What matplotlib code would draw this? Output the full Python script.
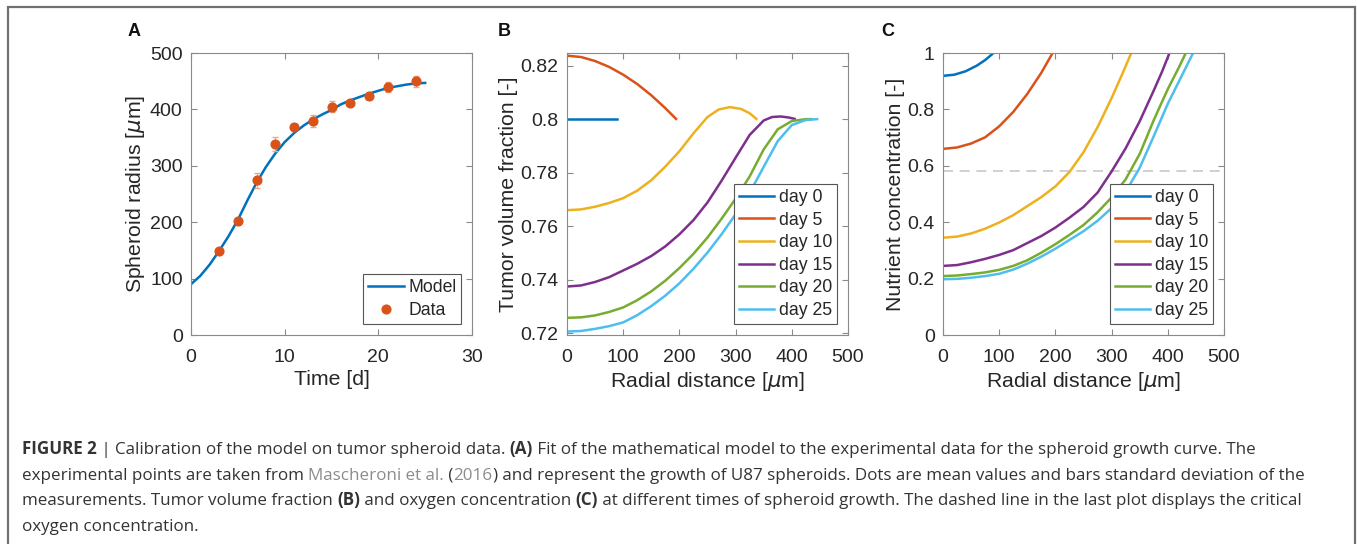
import matplotlib
matplotlib.use("Agg")
import matplotlib.pyplot as plt
from matplotlib.patches import Rectangle

plt.rcParams['font.family'] = ['Liberation Sans', 'DejaVu Sans']
plt.rcParams['mathtext.fontset'] = 'dejavusans'

# MATLAB default colour order
c_blue, c_red, c_yel, c_pur, c_grn, c_cyan = '#0072BD', '#D95319', '#EDB120', '#7E2F8E', '#77AC30', '#4DBEEE'
txt_col = '#262626'
axis_col = '#8a8a8a'

# ---- panel A: spheroid growth ----
model_t = list(range(26))
model_r = [90, 105, 125, 149, 175, 204, 238, 270, 298, 322, 342, 358, 371,
           382, 391, 399, 409, 416, 422, 428, 433, 438, 441, 444, 446, 447]
data_t = [3, 5, 7, 9, 11, 13, 15, 17, 19, 21, 24]
data_r = [149, 202, 274, 339, 369, 379, 405, 411, 423, 439, 450]
data_sd = [4, 4, 13, 12, 5, 11, 10, 5, 5, 9, 10]

# ---- panel B: tumor volume fraction vs radial distance ----
vf_x = {
    'day 0': [0, 89],
    'day 5': [0, 25, 50, 75, 100, 125, 150, 175, 194],
    'day 10': [0, 25, 50, 75, 100, 125, 150, 175, 200, 225, 250, 270, 290, 310, 325, 337],
    'day 15': [0, 25, 50, 75, 100, 125, 150, 175, 200, 225, 250, 275, 300, 325, 350, 365, 380, 395, 405],
    'day 20': [0, 25, 50, 75, 100, 125, 150, 175, 200, 225, 250, 275, 300, 325, 350, 375, 400, 425, 435],
    'day 25': [0, 25, 50, 75, 100, 125, 150, 175, 200, 225, 250, 275, 300, 325, 350, 375, 400, 425, 445],
}
vf_y = {
    'day 0': [0.8, 0.8],
    'day 5': [0.8237, 0.8232, 0.8217, 0.8195, 0.8166, 0.8131, 0.8089, 0.8041, 0.8001],
    'day 10': [0.7660, 0.7663, 0.7673, 0.7687, 0.7705, 0.7733, 0.7772, 0.7823, 0.7880, 0.7947,
               0.8008, 0.8036, 0.8045, 0.8038, 0.8022, 0.8001],
    'day 15': [0.7375, 0.7379, 0.7392, 0.7410, 0.7435, 0.7460, 0.7489, 0.7525, 0.7570, 0.7623,
               0.7689, 0.7770, 0.7856, 0.7941, 0.7995, 0.8008, 0.8010, 0.8006, 0.8001],
    'day 20': [0.7258, 0.7260, 0.7267, 0.7280, 0.7297, 0.7324, 0.7357, 0.7397, 0.7444, 0.7497,
               0.7558, 0.7628, 0.7703, 0.7786, 0.7887, 0.7962, 0.7993, 0.8000, 0.8000],
    'day 25': [0.7207, 0.7209, 0.7217, 0.7227, 0.7241, 0.7268, 0.7302, 0.7341, 0.7387, 0.7441,
               0.7502, 0.7570, 0.7645, 0.7725, 0.7822, 0.7918, 0.7978, 0.7997, 0.8000],
}

# ---- panel C: nutrient concentration vs radial distance ----
nc_x = {
    'day 0': [0, 20, 40, 60, 75, 90],
    'day 5': [0, 25, 50, 75, 100, 125, 150, 175, 195],
    'day 10': [0, 25, 50, 75, 100, 125, 150, 175, 200, 225, 250, 275, 300, 320, 335],
    'day 15': [0, 25, 50, 75, 100, 125, 150, 175, 200, 225, 250, 275, 300, 325, 350, 375, 390, 403],
    'day 20': [0, 25, 50, 75, 100, 125, 150, 175, 200, 225, 250, 275, 300, 325, 350, 375, 400, 420, 432],
    'day 25': [0, 25, 50, 75, 100, 125, 150, 175, 200, 225, 250, 275, 300, 325, 350, 375, 400, 425, 445],
}
nc_y = {
    'day 0': [0.919, 0.923, 0.935, 0.955, 0.975, 1.0],
    'day 5': [0.660, 0.665, 0.679, 0.701, 0.740, 0.791, 0.855, 0.930, 1.0],
    'day 10': [0.345, 0.349, 0.360, 0.377, 0.399, 0.425, 0.457, 0.489, 0.527, 0.578, 0.648,
               0.737, 0.840, 0.930, 1.0],
    'day 15': [0.245, 0.248, 0.258, 0.270, 0.284, 0.301, 0.326, 0.351, 0.381, 0.416, 0.454,
               0.505, 0.580, 0.662, 0.758, 0.867, 0.935, 1.0],
    'day 20': [0.209, 0.211, 0.216, 0.222, 0.231, 0.245, 0.265, 0.292, 0.322, 0.355, 0.390,
               0.435, 0.488, 0.552, 0.642, 0.762, 0.872, 0.950, 1.0],
    'day 25': [0.198, 0.199, 0.203, 0.209, 0.217, 0.232, 0.253, 0.278, 0.306, 0.337, 0.368,
               0.405, 0.450, 0.508, 0.593, 0.705, 0.820, 0.920, 1.0],
}
critical_c = 0.58
days = ['day 0', 'day 5', 'day 10', 'day 15', 'day 20', 'day 25']
day_cols = [c_blue, c_red, c_yel, c_pur, c_grn, c_cyan]

W, H = 1357, 544
fig = plt.figure(figsize=(W / 100, H / 100), dpi=100)


def px_axes(left, top, right, bottom):
    return fig.add_axes([left / W, 1 - bottom / H, (right - left) / W, (bottom - top) / H])


def style(ax):
    for s in ax.spines.values():
        s.set_color(axis_col)
        s.set_linewidth(0.8)
    ax.tick_params(direction='in', top=True, right=True, length=4, width=0.8,
                   color=axis_col, labelcolor=txt_col, labelsize=14, pad=6)
    ax.tick_params(axis='x', pad=10)


def leg(ax, **kw):
    lg = ax.legend(loc='lower right', fancybox=False, edgecolor='#555555', framealpha=1,
                   fontsize=12.7, handlelength=2.0, handletextpad=0.25, borderpad=0.3,
                   labelspacing=0.32, borderaxespad=0.6, **kw)
    lg.get_frame().set_linewidth(0.8)
    for t in lg.get_texts():
        t.set_color(txt_col)
    return lg


lab_fs = 15.3

# panel A
axA = px_axes(191, 53, 472, 335)
axA.plot(model_t, model_r, color=c_blue, lw=1.8, label='Model')
axA.errorbar(data_t, data_r, yerr=data_sd, fmt='none', ecolor='#f0a47c', elinewidth=0.8, capsize=2)
axA.plot(data_t, data_r, 'o', color=c_red, ms=6.3, label='Data')
axA.set_xlim(0, 30)
axA.set_ylim(0, 500)
axA.set_xticks([0, 10, 20, 30])
axA.set_yticks([0, 100, 200, 300, 400, 500])
axA.set_xlabel('Time [d]', fontsize=lab_fs, color=txt_col, labelpad=3)
axA.set_ylabel(r'Spheroid radius [$\mu$m]', fontsize=lab_fs, color=txt_col, labelpad=2)
style(axA)
leg(axA, handles=axA.get_lines()[:1] + axA.get_lines()[-1:])

# panel B
axB = px_axes(567, 53, 848, 335)
for d, c in zip(days, day_cols):
    axB.plot(vf_x[d], vf_y[d], color=c, lw=1.8, label=d)
axB.set_xlim(0, 500)
axB.set_ylim(0.7194, 0.8247)
axB.set_xticks([0, 100, 200, 300, 400, 500])
axB.set_yticks([0.72, 0.74, 0.76, 0.78, 0.8, 0.82])
axB.set_yticklabels(['0.72', '0.74', '0.76', '0.78', '0.8', '0.82'])
axB.set_xlabel(r'Radial distance [$\mu$m]', fontsize=lab_fs, color=txt_col, labelpad=3)
axB.set_ylabel('Tumor volume fraction [-]', fontsize=lab_fs, color=txt_col, labelpad=2)
style(axB)
leg(axB)

# panel C
axC = px_axes(943, 53, 1224, 335)
for d, c in zip(days, day_cols):
    axC.plot(nc_x[d], nc_y[d], color=c, lw=1.8, label=d)
axC.axhline(critical_c, color='#c8c8c8', lw=1.2, ls=(0, (6, 4)), zorder=1)
axC.set_xlim(0, 500)
axC.set_ylim(0, 1)
axC.set_xticks([0, 100, 200, 300, 400, 500])
axC.set_yticks([0, 0.2, 0.4, 0.6, 0.8, 1])
axC.set_yticklabels(['0', '0.2', '0.4', '0.6', '0.8', '1'])
axC.set_xlabel(r'Radial distance [$\mu$m]', fontsize=lab_fs, color=txt_col, labelpad=3)
axC.set_ylabel('Nutrient concentration [-]', fontsize=lab_fs, color=txt_col, labelpad=2)
style(axC)
leg(axC)

for lab, x in [('A', 128), ('B', 498), ('C', 881)]:
    fig.text(x / W, 1 - 31 / H, lab, fontsize=13, fontweight='bold', color='#111111',
             ha='left', va='center')

# caption, built piece by piece
cap_col = '#333333'
link_col = '#8c8c8c'
caption = [
    [('FIGURE 2', 'b', cap_col), (' | ', 'n', cap_col),
     ('Calibration of the model on tumor spheroid data. ', 'n', cap_col), ('(A)', 'b', cap_col),
     (' Fit of the mathematical model to the experimental data for the spheroid growth curve. The', 'n', cap_col)],
    [('experimental points are taken from ', 'n', cap_col), ('Mascheroni et al.', 'n', link_col),
     (' (', 'n', cap_col), ('2016', 'n', link_col), (')', 'n', cap_col),
     (' and represent the growth of U87 spheroids. Dots are mean values and bars standard deviation of the', 'n', cap_col)],
    [('measurements. Tumor volume fraction ', 'n', cap_col), ('(B)', 'b', cap_col),
     (' and oxygen concentration ', 'n', cap_col), ('(C)', 'b', cap_col),
     (' at different times of spheroid growth. The dashed line in the last plot displays the critical', 'n', cap_col)],
    [('oxygen concentration.', 'n', cap_col)],
]
cap_fs = 10.0
cap_family = ['Open Sans', 'DejaVu Sans']
line_y = [454, 480, 505, 531]
cap_texts = []
line_ends = []
for segs, yb in zip(caption, line_y):
    last = None
    for s, w, c in segs:
        wt = 'bold' if w == 'b' else 'normal'
        if last is None:
            last = fig.text(22 / W, 1 - yb / H, s, fontsize=cap_fs, color=c, fontweight=wt,
                            family=cap_family, ha='left', va='baseline')
        else:
            last = axC.annotate(s, xy=(1, 0), xycoords=last, va='bottom', ha='left',
                                fontsize=cap_fs, color=c, fontweight=wt, family=cap_family,
                                annotation_clip=False)
        cap_texts.append(last)
    line_ends.append(last)

# scale caption so the first line spans the same width as in the figure
fig.canvas.draw()
r = fig.canvas.get_renderer()
end1 = line_ends[0].get_window_extent(r).x1
scale = (1258 - 22) / (end1 - 22)
for t in cap_texts:
    t.set_fontsize(cap_fs * scale)

fig.add_artist(Rectangle((7.5 / W, -0.05), (1355 - 7.5) / W, 1.05 - 6.5 / H,
                         transform=fig.transFigure, fill=False, edgecolor='#707070', lw=1.6))

fig.savefig('out.png', dpi=100)
